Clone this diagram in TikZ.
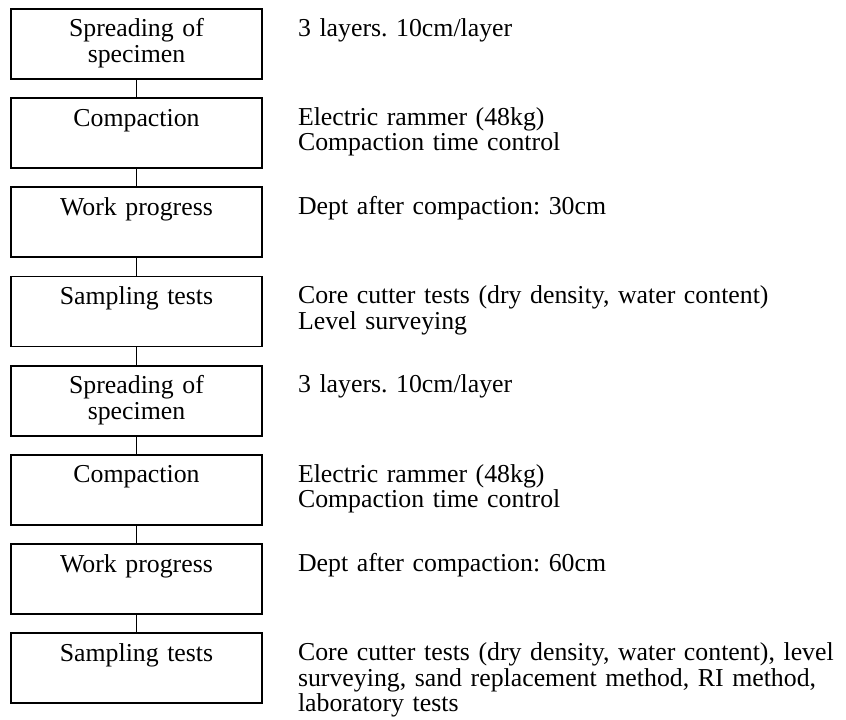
\documentclass[tikz,border=0pt]{standalone}
\usepackage{fontspec}
\setmainfont{Liberation Serif}
\usetikzlibrary{positioning}
\frenchspacing
\tikzset{
  stage/.style={draw,line width=1.7pt,align=center,text width=243pt,inner xsep=4pt,inner ysep=4pt,text height=24pt,text depth=38pt,font=\fontsize{25.8}{26}\selectfont},
  note/.style={anchor=base west,align=left,text width=540pt,inner sep=0pt,font=\fontsize{25.8}{25.6}\selectfont},
  link/.style={line width=1.6pt}
}
\begin{document}
\begin{tikzpicture}[x=1pt,y=1pt,node distance=17.5pt]
        \useasboundingbox (0,0) rectangle (846,-720);
        \node[stage,anchor=north] (s1) at (136.5,-8) {Spreading of\\specimen};
        \node[stage,below=of s1] (s2) {Compaction};
        \node[stage,below=of s2] (s3) {Work progress};
        \node[stage,below=of s3] (s4) {Sampling tests};
        \node[stage,below=of s4] (s5) {Spreading of\\specimen};
        \node[stage,below=of s5] (s6) {Compaction};
        \node[stage,below=of s6] (s7) {Work progress};
        \node[stage,below=of s7] (s8) {Sampling tests};
        \foreach \a/\b in {s1/s2,s2/s3,s3/s4,s4/s5,s5/s6,s6/s7,s7/s8}
          \draw[link] (\a) -- (\b);
        % remarks beside each stage
        \node[note] (n1) at ([xshift=35pt,yshift=-28pt]s1.north east) {3 layers. 10cm/layer};
        \node[note] (n2) at ([xshift=35pt,yshift=-28pt]s2.north east) {Electric rammer (48kg)\\Compaction time control};
        \node[note] (n3) at ([xshift=35pt,yshift=-28pt]s3.north east) {Dept after compaction: 30cm};
        \node[note] (n4) at ([xshift=35pt,yshift=-28pt]s4.north east) {Core cutter tests (dry density, water content)\\Level surveying};
        \node[note] (n5) at ([xshift=35pt,yshift=-28pt]s5.north east) {3 layers. 10cm/layer};
        \node[note] (n6) at ([xshift=35pt,yshift=-28pt]s6.north east) {Electric rammer (48kg)\\Compaction time control};
        \node[note] (n7) at ([xshift=35pt,yshift=-28pt]s7.north east) {Dept after compaction: 60cm};
        \node[note] (n8) at ([xshift=35pt,yshift=-28pt]s8.north east) {Core cutter tests (dry density, water content), level\\surveying, sand replacement method, RI method,\\laboratory tests};
      \end{tikzpicture}
\end{document}
